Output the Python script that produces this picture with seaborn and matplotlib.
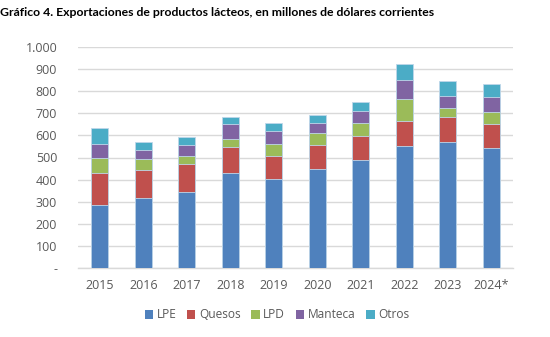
import matplotlib
matplotlib.use("Agg")
import matplotlib.pyplot as plt
import seaborn as sns
import pandas as pd
import numpy as np
from matplotlib.patches import Patch

years = ["2015", "2016", "2017", "2018", "2019", "2020", "2021", "2022", "2023", "2024*"]
lpe = [286, 317, 346, 429, 403, 447, 490, 553, 568, 543]
quesos = [143, 128, 125, 120, 105, 111, 107, 112, 115, 107]
lpd = [70, 48, 36, 34, 51, 53, 59, 97, 40, 57]
manteca = [62, 41, 48, 67, 62, 45, 54, 89, 54, 64]
otros = [70, 34, 36, 34, 33, 34, 42, 71, 70, 61]
series_names = ["LPE", "Quesos", "LPD", "Manteca", "Otros"]
colors = ["#4F81BD", "#C0504D", "#9BBB59", "#8064A2", "#4BACC6"]
yticks = [0, 100, 200, 300, 400, 500, 600, 700, 800, 900, 1000]
ytick_labels = ["-", "100", "200", "300", "400", "500", "600", "700", "800", "900", "1.000"]

sns.set_theme(style="white")
plt.rcParams["font.family"] = ["Open Sans", "DejaVu Sans"]

df = pd.DataFrame({"Año": years, "LPE": lpe, "Quesos": quesos, "LPD": lpd,
                   "Manteca": manteca, "Otros": otros})
cum = df[series_names].cumsum(axis=1)
cum["Año"] = years

fig = plt.figure(figsize=(5.5, 3.37), dpi=100)
ax = fig.add_axes([78 / 550, 1 - 268.3 / 337, 435 / 550, 221.6 / 337])

for name, col in reversed(list(zip(series_names, colors))):
    sns.barplot(data=cum, x="Año", y=name, color=col, width=0.39, ax=ax,
                edgecolor="#BFD7EA", linewidth=0.6, saturation=1, zorder=3)

ax.set_ylim(0, 1000)
ax.set_xlim(-0.5, 9.5)
ax.set_yticks(yticks)
ax.set_yticklabels(ytick_labels)
ax.yaxis.grid(True, color="#D9D9D9", linewidth=1.0, zorder=0)
ax.set_axisbelow(True)
for s in ["top", "right", "left"]:
    ax.spines[s].set_visible(False)
ax.spines["bottom"].set_color("#D9D9D9")
ax.spines["bottom"].set_linewidth(1.0)
ax.set_xlabel("")
ax.set_ylabel("")
ax.tick_params(axis="both", length=0, labelsize=9, colors="#595959")
ax.tick_params(axis="y", pad=15)
ax.tick_params(axis="x", pad=8)

handles = [Patch(facecolor=c, edgecolor="none", label=n) for n, c in zip(series_names, colors)]
fig.legend(handles=handles, loc="center", bbox_to_anchor=(277 / 550, 1 - 315 / 337),
           ncol=5, frameon=False, fontsize=8.6, handlelength=0.7, handleheight=0.7,
           handletextpad=0.3, columnspacing=0.9, labelcolor="#595959")

fig.text(0.0, 1 - 12 / 337, "Gráfico 4. Exportaciones de productos lácteos, en millones de dólares corrientes",
         fontsize=8.8, fontweight="bold", color="#000000", va="center", ha="left",
         family=["Lato", "DejaVu Sans"])

fig.savefig("out.png", dpi=100, facecolor="white")
